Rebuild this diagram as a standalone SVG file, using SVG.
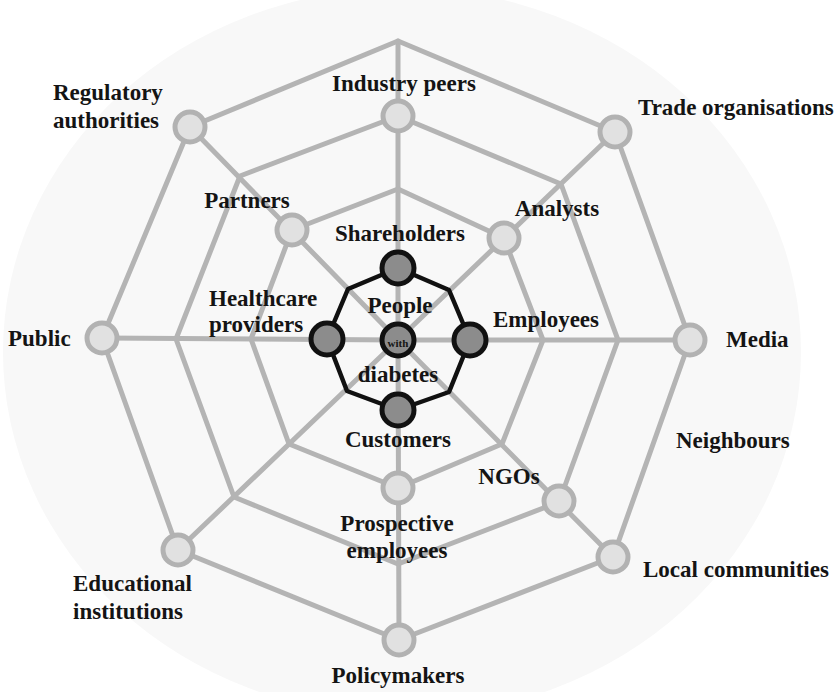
<svg xmlns="http://www.w3.org/2000/svg" width="839" height="692" viewBox="0 0 839 692">
  <style>
    .web { fill: none; stroke: #b4b4b4; stroke-width: 5; stroke-linejoin: round; stroke-linecap: round; }
    .core { fill: none; stroke: #111111; stroke-width: 4.5; stroke-linejoin: round; }
    .outer { fill: #e1e1e1; stroke: #b2b2b2; stroke-width: 5; }
    .inner { fill: #8c8c8c; stroke: #111111; stroke-width: 5; }
    text { font-family: "Liberation Serif", "Times New Roman", serif; font-weight: bold; font-size: 23px; fill: #141414; }
    .mid { text-anchor: middle; }
    .small { font-size: 11px; }
  </style>

  <rect width="839" height="692" fill="#ffffff"/>
  <!-- faint backdrop behind the web -->
  <ellipse cx="402" cy="352" rx="399" ry="364" fill="#f8f8f8"/>

  <!-- web: spokes and rings -->
  <g id="connectors">
    <!-- spokes from the hub to the outer ring -->
    <line class="web" x1="398" y1="340" x2="398" y2="41"/>
    <line class="web" x1="398" y1="340" x2="615" y2="132"/>
    <line class="web" x1="398" y1="340" x2="690" y2="340"/>
    <line class="web" x1="398" y1="340" x2="613" y2="557"/>
    <line class="web" x1="398" y1="340" x2="399" y2="640"/>
    <line class="web" x1="398" y1="340" x2="178" y2="550"/>
    <line class="web" x1="398" y1="340" x2="102" y2="338"/>
    <line class="web" x1="398" y1="340" x2="190" y2="127"/>
    <!-- outer ring -->
    <polygon class="web" points="398,41 615,132 690,340 613,557 399,640 178,550 102,338 190,127"/>
    <!-- third ring -->
    <polygon class="web" points="398,116 561,184 618,340 559,502 398,564 234,497 176,339 240,176"/>
    <!-- second ring -->
    <polygon class="web" points="398,189 504,238 543,340 502,444 398,488 289,444 251,339 292,230"/>
    <!-- core ring -->
    <polygon class="core" points="398,268 449,290 470,340 449,392 398,410 347,391 327,339 348,289"/>
  </g>

  <!-- outer stakeholder nodes -->
  <g id="industry-peers"><circle class="outer" cx="398" cy="116" r="15"/><text class="mid" x="404" y="91">Industry peers</text></g>
  <g id="regulatory-authorities"><circle class="outer" cx="190" cy="127" r="15"/><text x="53" y="100">Regulatory</text><text x="53" y="128">authorities</text></g>
  <g id="trade-organisations"><circle class="outer" cx="615" cy="132" r="15"/><text x="638" y="115">Trade organisations</text></g>
  <g id="partners"><circle class="outer" cx="292" cy="230" r="15"/><text class="mid" x="247" y="208">Partners</text></g>
  <g id="analysts"><circle class="outer" cx="504" cy="238" r="15"/><text class="mid" x="557" y="216">Analysts</text></g>
  <g id="public"><circle class="outer" cx="102" cy="338" r="15"/><text x="8" y="346">Public</text></g>
  <g id="media"><circle class="outer" cx="690" cy="340" r="15"/><text x="726" y="347">Media</text></g>
  <g id="neighbours"><text x="676" y="448">Neighbours</text></g>
  <g id="ngos"><circle class="outer" cx="559" cy="501" r="15"/><text class="mid" x="509" y="484">NGOs</text></g>
  <g id="prospective-employees"><circle class="outer" cx="398" cy="488" r="15"/><text class="mid" x="397" y="531">Prospective</text><text class="mid" x="397" y="558">employees</text></g>
  <g id="local-communities"><circle class="outer" cx="613" cy="557" r="15"/><text x="643" y="577">Local communities</text></g>
  <g id="educational-institutions"><circle class="outer" cx="178" cy="550" r="15"/><text x="73" y="591">Educational</text><text x="73" y="619">institutions</text></g>
  <g id="policymakers"><circle class="outer" cx="399" cy="640" r="15"/><text class="mid" x="398" y="683">Policymakers</text></g>

  <!-- core stakeholder nodes -->
  <g id="shareholders"><circle class="inner" cx="398" cy="268" r="16"/><text class="mid" x="400" y="241">Shareholders</text></g>
  <g id="healthcare-providers"><circle class="inner" cx="327" cy="339" r="16"/><text x="209" y="306">Healthcare</text><text x="209" y="332">providers</text></g>
  <g id="employees"><circle class="inner" cx="470" cy="340" r="16"/><text class="mid" x="546" y="327">Employees</text></g>
  <g id="customers"><circle class="inner" cx="398" cy="410" r="16"/><text class="mid" x="398" y="447">Customers</text></g>
  <g id="people-with-diabetes"><circle class="inner" cx="398" cy="340" r="16"/><text class="mid" x="400" y="313">People</text><text class="mid small" x="398" y="347">with</text><text class="mid" x="398" y="382">diabetes</text></g>
</svg>
